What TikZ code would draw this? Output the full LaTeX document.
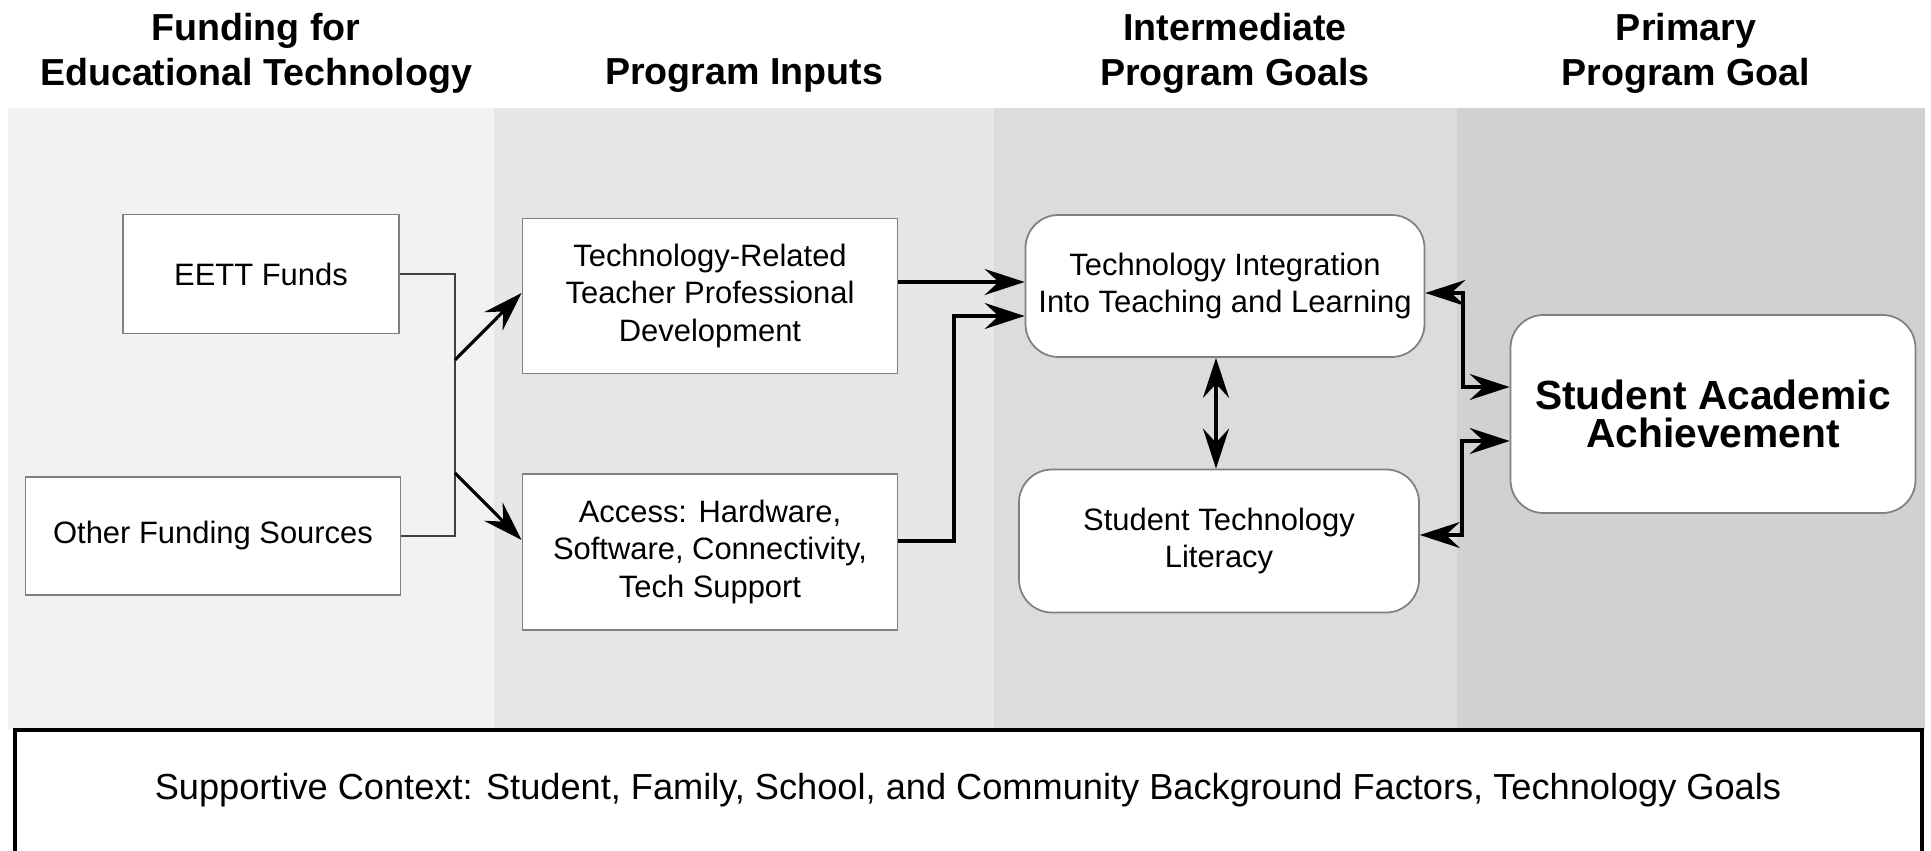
\documentclass[tikz,border=0pt]{standalone}
\usepackage{fontspec}
\setmainfont{Liberation Sans}
\usetikzlibrary{arrows.meta}

\definecolor{bandA}{HTML}{F2F2F2}
\definecolor{bandB}{HTML}{E6E7E8}
\definecolor{bandC}{HTML}{DBDCDE}
\definecolor{bandD}{HTML}{D0D1D3}

\begin{document}
\begin{tikzpicture}[x=0.1mm,y=-0.1mm,
    box/.style={draw=black!50,fill=white,line width=0.5pt,inner sep=0pt,align=center,font=\fontsize{8.8}{10.6}\selectfont},
    rbox/.style={box,rounded corners=3.3mm},
    head/.style={align=center,font=\bfseries\fontsize{10.7}{12.8}\selectfont},
    link/.style={draw=black!75,line width=0.5pt},
    arr/.style={-{Stealth[length=4mm,width=2.6mm,inset=1.4mm]},line width=0.9pt},
    dbl/.style={{Stealth[length=4mm,width=2.6mm,inset=1.4mm]}-{Stealth[length=4mm,width=2.6mm,inset=1.4mm]},line width=0.9pt}]
          \useasboundingbox (0,0) rectangle (1931,851);
          \fill[white] (0,0) rectangle (1931,851);
          \fill[bandA] (8,108) rectangle (494,729);
          \fill[bandB] (494,108) rectangle (994,729);
          \fill[bandC] (994,108) rectangle (1457,729);
          \fill[bandD] (1457,108) rectangle (1925,729);
          \node[head] (hfund) at (256,53) {Funding for\\Educational Technology};
          \node[head] (hinp) at (744,76) {Program Inputs};
          \node[head] (hint) at (1235,53) {Intermediate\\Program Goals};
          \node[head] (hprim) at (1686,53) {Primary\\Program Goal};
          \node[box,minimum width=27.6mm,minimum height=11.9mm] (eett) at (261,274) {EETT Funds};
          \node[box,minimum width=37.5mm,minimum height=11.8mm] (oth) at (213,536) {Other Funding Sources};
          \node[box,minimum width=37.5mm,minimum height=15.5mm] (pd) at (710,296) {Technology-Related\\Teacher Professional\\Development};
          \node[box,minimum width=37.5mm,minimum height=15.6mm] (acc) at (710,552) {Access: Hardware,\\Software, Connectivity,\\Tech Support};
          \node[rbox,minimum width=39.9mm,minimum height=14.2mm] (ti) at (1225,286) {Technology Integration\\Into Teaching and Learning};
          \node[rbox,minimum width=40mm,minimum height=14.3mm] (stl) at (1219,541) {Student Technology\\Literacy};
          \node[rbox,minimum width=40.5mm,minimum height=19.8mm,font=\bfseries\fontsize{11.6}{10.6}\selectfont] (saa) at (1713,414) {Student Academic\\Achievement};
          \coordinate (jup) at (455,360);
          \coordinate (jdn) at (455,473);
          \draw[link] (eett.east) -| (jup) -- (jdn) |- (oth.east);
          \draw[arr] (jup) -- (pd.west |- 0,293);
          \draw[arr] (jdn) -- (acc.west |- 0,540);
          \draw[arr] (pd.east |- 0,282) -- (ti.west |- 0,282);
          \draw[arr] (acc.east |- 0,541) -| (954,316) -- (ti.west |- 0,316);
          \draw[dbl] (stl.north -| 1216,0) -- (ti.south -| 1216,0);
          \draw[dbl] (ti.east |- 0,293) -| (1463,387) -- (saa.west |- 0,387);
          \draw[dbl] (stl.east |- 0,535) -| (1462,441) -- (saa.west |- 0,441);
          \draw[line width=1.1pt] (15,851) |- (1922,730) -- (1922,851);
          \node[font=\fontsize{10.3}{12}\selectfont] (ctx) at (968,790) {Supportive Context: Student, Family, School, and Community Background Factors, Technology Goals};
        \end{tikzpicture}
\end{document}
